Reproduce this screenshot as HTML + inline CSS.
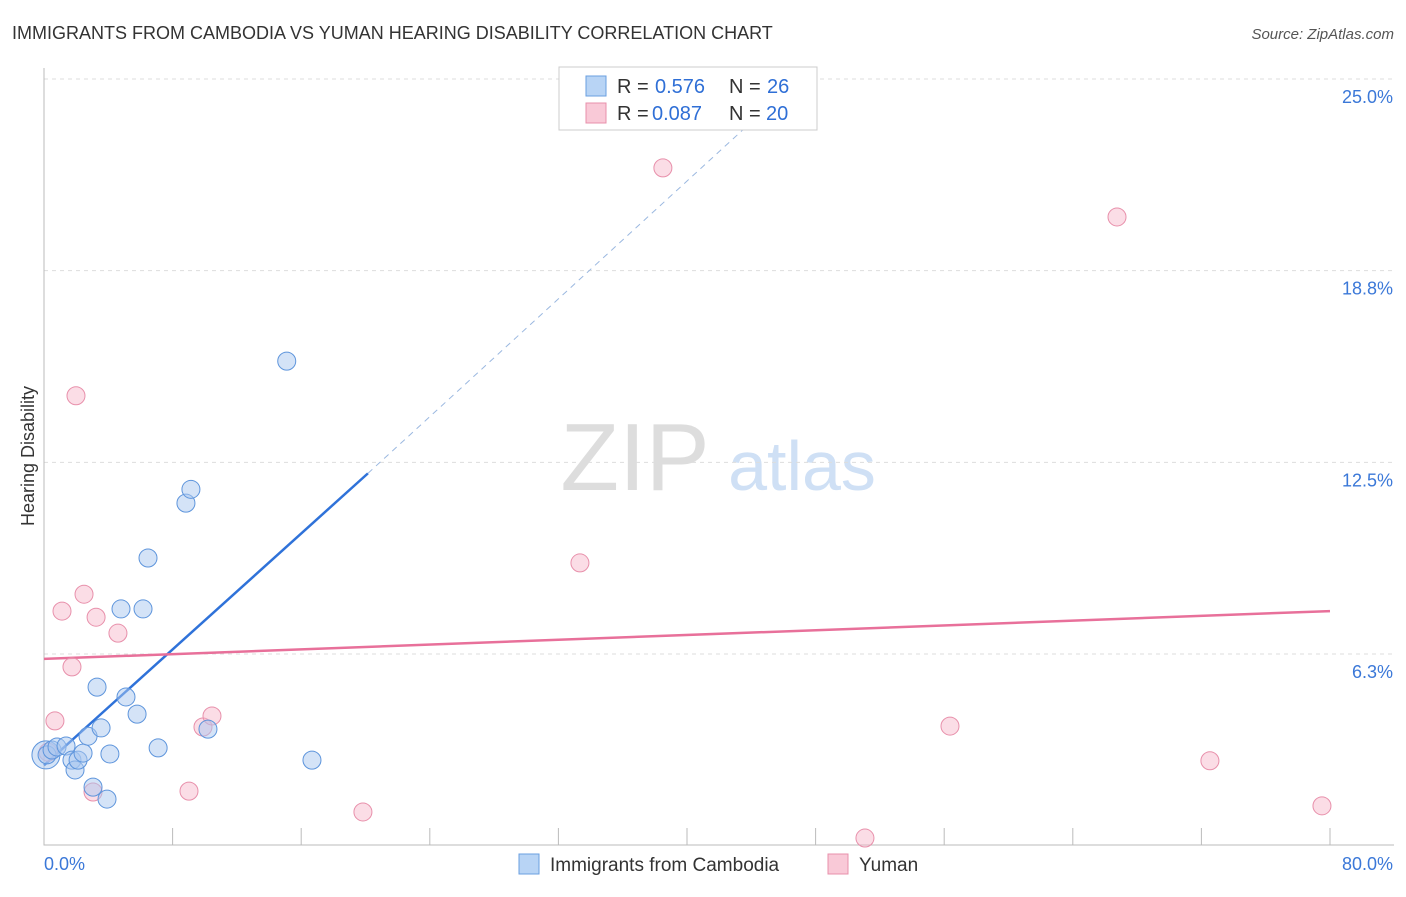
<!DOCTYPE html>
<html><head><meta charset="utf-8"><style>
body{margin:0;background:#fff;font-family:"Liberation Sans",sans-serif}
svg text{font-family:"Liberation Sans",sans-serif}
</style></head><body>
<svg id="c" width="1406" height="892">
<text x="12" y="39" font-size="18" fill="#333">IMMIGRANTS FROM CAMBODIA VS YUMAN HEARING DISABILITY CORRELATION CHART</text>
<text x="1394" y="39" font-size="15" fill="#555" font-style="italic" text-anchor="end">Source: ZipAtlas.com</text>
<text x="34" y="456" font-size="18" fill="#333" transform="rotate(-90 34 456)" text-anchor="middle">Hearing Disability</text>
<g><text x="635" y="490" font-size="96" fill="#ddd" font-family="Liberation Serif" text-anchor="middle">ZIP</text><text x="802" y="490" font-size="70" fill="#cfe0f5" text-anchor="middle">atlas</text></g>
<g id="grid"></g><g id="ticks"></g><g id="lines"></g><g id="pts"></g>
<g>
<rect x="559" y="67" width="258" height="63" fill="#fff" stroke="#ccc"/>
<rect x="586" y="76" width="20" height="20" fill="#b8d4f5" stroke="#6a9fe0"/>
<text x="617" y="93" font-size="20" fill="#333">R =</text>
<text x="655" y="93" font-size="20" fill="#2f6fd6">0.576</text>
<text x="729" y="93" font-size="20" fill="#333">N =</text>
<text x="767" y="93" font-size="20" fill="#2f6fd6">26</text>
<rect x="586" y="103" width="20" height="20" fill="#f9c9d7" stroke="#e890ab"/>
<text x="617" y="120" font-size="20" fill="#333">R =</text>
<text x="652" y="120" font-size="20" fill="#2f6fd6">0.087</text>
<text x="729" y="120" font-size="20" fill="#333">N =</text>
<text x="766" y="120" font-size="20" fill="#2f6fd6">20</text>
</g>
<g>
<rect x="519" y="854" width="20" height="20" fill="#b8d4f5" stroke="#6a9fe0"/>
<text x="550" y="871" font-size="19" fill="#333">Immigrants from Cambodia</text>
<rect x="828" y="854" width="20" height="20" fill="#f9c9d7" stroke="#e890ab"/>
<text x="859" y="871" font-size="19" fill="#333">Yuman</text>
</g>
</svg>
<script>
const yTicks=[6.25,12.5,18.75,25];
const yTickLabels=["6.3%","12.5%","18.8%","25.0%"];
const xTickVals=[0,8,16,24,32,40,48,56,64,72,80];
const blueX=[0.12,0.19,0.5,0.81,1.37,1.74,1.93,2.12,2.43,2.74,3.05,3.3,3.55,3.92,4.1,4.79,5.1,5.79,6.16,6.47,7.1,8.83,9.14,10.2,15.1,16.67];
const blueY=[2.96,2.96,3.12,3.22,3.25,2.79,2.47,2.79,3.02,3.57,1.91,5.17,3.84,1.52,2.99,7.72,4.85,4.29,7.72,9.38,3.19,11.17,11.62,3.8,15.8,2.79];
const pinkX=[0.25,0.68,1.12,1.74,1.99,2.49,3.05,3.24,4.6,9.02,9.89,10.45,19.84,33.34,38.5,51.07,56.36,66.75,72.53,79.5];
const pinkY=[3.05,4.07,7.65,5.83,14.67,8.2,1.75,7.45,6.93,1.78,3.87,4.23,1.10,9.22,22.1,0.25,3.9,20.5,2.77,1.3];
const blueTrend=[[0,2.62],[20.15,12.14],[43.6,23.4]];
const pinkTrend=[[0,6.09],[80,7.65]];
const X=v=>44+v*16.075, Y=v=>845.7-v*30.67;
const NS='http://www.w3.org/2000/svg';
function mk(p,t,a){const e=document.createElementNS(NS,t);for(const k in a)e.setAttribute(k,a[k]);document.getElementById(p).appendChild(e);return e;}
yTicks.forEach((v,i)=>{
 const l=mk('grid','line',{x1:44,x2:1394,y1:Y(v),y2:Y(v),stroke:'#ddd','stroke-dasharray':'4,4'});
 
 
 const t=mk('grid','text',{x:1393,y:Y(v)+24,'font-size':18,fill:'#3b78d8','text-anchor':'end'});t.textContent=yTickLabels[i];
 
 
});
const ax=mk('ticks','path',{d:'M44,68V845H1394',fill:'none',stroke:'#bbb'});


xTickVals.slice(1).forEach(v=>{const t=mk('ticks','line',{x1:X(v),x2:X(v),y1:828,y2:845,stroke:'#bbb'});
 
 });
[[44,'0.0%','start'],[1393,'80.0%','end']].forEach(a=>{const t=mk('ticks','text',{x:a[0],y:870,'font-size':18,fill:'#3b78d8','text-anchor':a[2]});t.textContent=a[1];
 
 });
let b=mk('lines','line',{x1:X(blueTrend[0][0]),y1:Y(blueTrend[0][1]),x2:X(blueTrend[1][0]),y2:Y(blueTrend[1][1]),stroke:'#2f72d9','stroke-width':2.5});


b=mk('lines','line',{x1:X(blueTrend[1][0]),y1:Y(blueTrend[1][1]),x2:X(blueTrend[2][0]),y2:Y(blueTrend[2][1]),stroke:'#9bb8e0','stroke-width':1,'stroke-dasharray':'6,5'});


b=mk('lines','line',{x1:X(pinkTrend[0][0]),y1:Y(pinkTrend[0][1]),x2:X(pinkTrend[1][0]),y2:Y(pinkTrend[1][1]),stroke:'#e8709a','stroke-width':2.5});


pinkX.forEach((v,i)=>{const c=mk('pts','circle',{cx:X(v),cy:Y(pinkY[i]),r:9,fill:'rgba(246,180,200,0.45)',stroke:'#e890ab','stroke-width':1});
 
 });
blueX.forEach((v,i)=>{const c=mk('pts','circle',{cx:X(v),cy:Y(blueY[i]),r:i==0?14:9,fill:'rgba(170,200,240,0.5)',stroke:'#5e95dc','stroke-width':1});
 
 });
</script>
</body></html>
